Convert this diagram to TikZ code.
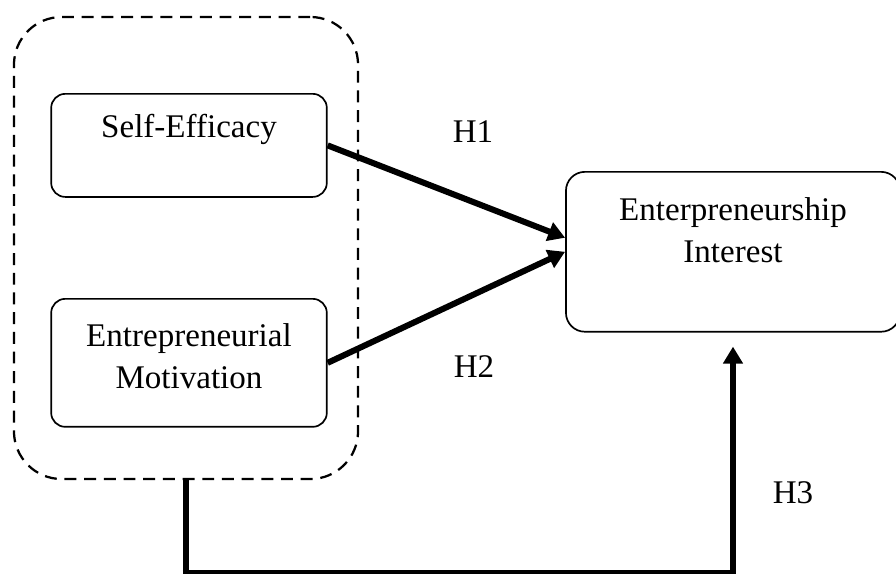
\documentclass[tikz,border=0pt]{standalone}
\usepackage{fontspec}
\setmainfont{Liberation Serif}
\usetikzlibrary{arrows.meta}

\begin{document}
\begin{tikzpicture}[x=0.025cm,y=-0.025cm,
    font=\fontsize{23.5}{30}\selectfont,
    factor/.style={draw,line width=1.2pt,rounded corners=10pt,align=center,
        inner sep=0pt,anchor=north,minimum width=196pt},
    path arrow/.style={line width=4.3pt,-{Triangle[width=13.5pt,length=12pt]}}]
                \useasboundingbox (0,0) rectangle (896,574);
                \node[draw,line width=1.6pt,dash pattern=on 8.5pt off 5.5pt,rounded corners=34pt,
                    minimum width=244.7pt,minimum height=328.6pt] (grp) at (186,248) {};
                \node[factor,text height=31.3pt,text depth=42pt] (se) at (189,93) {Self-Efficacy};
                \node[factor,text height=64pt,text depth=27pt] (em) at (189,298) {Entrepreneurial\\Motivation};
                \node[factor,rounded corners=13.5pt,minimum width=237.6pt,text height=64.7pt,text depth=49pt] (ei) at (733,171) {Enterpreneurship\\Interest};
                \coordinate (low) at (186,572);
                \draw[path arrow] (se.east) -- ([yshift=10pt]ei.west);
                \draw[path arrow] (em.east) -- (ei.west);
                \draw[line width=4.6pt] (grp.south) -- (grp.south |- low);
                \draw[line width=2.8pt] ([xshift=-2.3pt]grp.south |- low) -- ([xshift=2.2pt]ei.south |- low);
                \draw[path arrow] ([yshift=-1.4pt]ei.south |- low) -- ([yshift=-10pt]ei.south);
                \node (h1) at (473,132) {H1};
                \node (h2) at (474,367) {H2};
                \node (h3) at (793,493) {H3};
            \end{tikzpicture}
\end{document}
